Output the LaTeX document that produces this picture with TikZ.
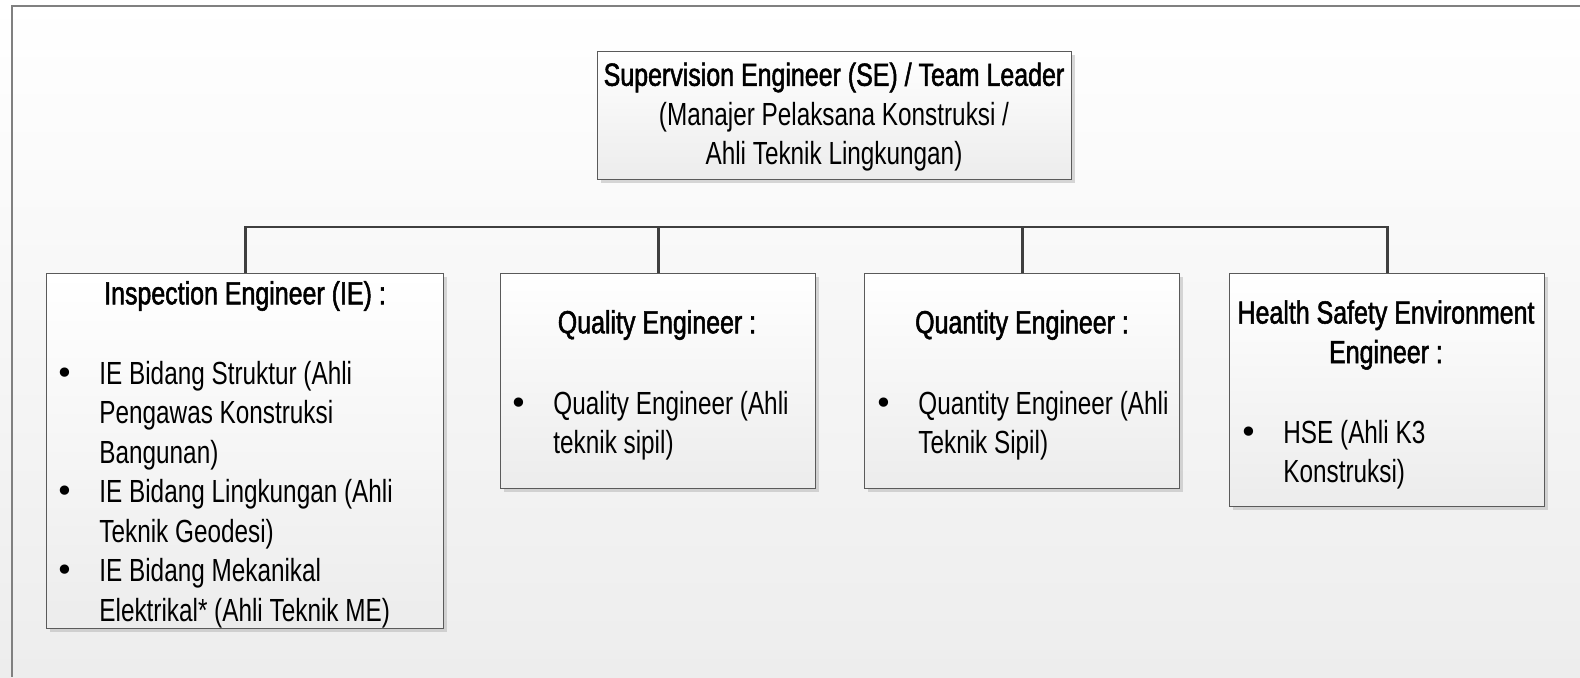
\documentclass[tikz,border=0pt]{standalone}
\usepackage{fontspec}
\setmainfont[FakeStretch=0.76]{Liberation Sans}
\newfontfamily\headfont[FakeStretch=0.78,FakeBold=1.6]{Liberation Sans}
\newfontfamily\dotfont{DejaVu Sans}
\usetikzlibrary{shadows}
\definecolor{boxline}{HTML}{5A5A5A}
\definecolor{boxbot}{HTML}{ECECEC}
\definecolor{linkcol}{HTML}{3F3F3F}
\definecolor{bgbot}{HTML}{EDEDED}
\newcommand{\orgfont}{\fontsize{16}{19.75}\selectfont}
\newcommand{\dotitem}{{\dotfont •}}

\begin{document}
\begin{tikzpicture}[x={(0.5pt,0)},y={(0,-0.5pt)},
	box/.style={draw=boxline,line width=0.7pt,top color=white,bottom color=boxbot,
		drop shadow={shadow xshift=1.5pt,shadow yshift=-1.5pt,fill=black!30},
		anchor=north west,inner sep=0},
	title/.style={font=\orgfont\headfont,align=center,inner sep=0},
	list/.style={font=\orgfont,anchor=base west,inner sep=0},
	link/.style={draw=linkcol,line width=1.4pt}]
	\shade[top color=white,bottom color=bgbot] (0,0) rectangle (1580,677);
	\useasboundingbox (0,0) rectangle (1580,677);
	\draw[gray,line width=0.8pt] (1580,6) -- (12,6) -- (12,677);
	\node[box,minimum width=237pt,minimum height=64pt] (se) at (597,51) {};
	\node[box,minimum width=198.5pt,minimum height=177.5pt] (ie) at (46,273) {};
	\node[box,minimum width=157.5pt,minimum height=107.5pt] (qa) at (500,273) {};
	\node[box,minimum width=157.5pt,minimum height=107.5pt] (qt) at (864,273) {};
	\node[box,minimum width=157.5pt,minimum height=116.5pt] (hse) at (1229,273) {};
	\coordinate (bus) at (0,227);
	\draw[link] (ie.north) -- (ie.north |- bus) -- (hse.north |- bus) -- (hse.north);
	\draw[link] (qa.north) -- (qa.north |- bus);
	\draw[link] (qt.north) -- (qt.north |- bus);
	\node[title] (seT) at (834,117) {Supervision Engineer (SE) / Team Leader\\
		\normalfont\orgfont(Manajer Pelaksana Konstruksi /\\ \normalfont\orgfont Ahli Teknik Lingkungan)};
	\node[title] (ieT) at (245,296) {Inspection Engineer (IE) :};
	\node[title] (qaT) at (657,325) {Quality Engineer :};
	\node[title] (qtT) at (1022,325) {Quantity Engineer :};
	\node[title] (hseT) at (1386,335) {Health Safety Environment\\Engineer :};
	\node[list] (ieL) at (55,384) {\begin{tabular}[t]{@{}p{22pt}@{}l@{}}
		\dotitem & IE Bidang Struktur (Ahli\\
		& Pengawas Konstruksi\\
		& Bangunan)\\
		\dotitem & IE Bidang Lingkungan (Ahli\\
		& Teknik Geodesi)\\
		\dotitem & IE Bidang Mekanikal\\
		& Elektrikal* (Ahli Teknik ME)
	\end{tabular}};
	\node[list] (qaL) at (509,414) {\begin{tabular}[t]{@{}p{22pt}@{}l@{}}
		\dotitem & Quality Engineer (Ahli\\
		& teknik sipil)
	\end{tabular}};
	\node[list] (qtL) at (874,414) {\begin{tabular}[t]{@{}p{22pt}@{}l@{}}
		\dotitem & Quantity Engineer (Ahli\\
		& Teknik Sipil)
	\end{tabular}};
	\node[list] (hseL) at (1239,443) {\begin{tabular}[t]{@{}p{22pt}@{}l@{}}
		\dotitem & HSE (Ahli K3\\
		& Konstruksi)
	\end{tabular}};
\end{tikzpicture}
\end{document}
